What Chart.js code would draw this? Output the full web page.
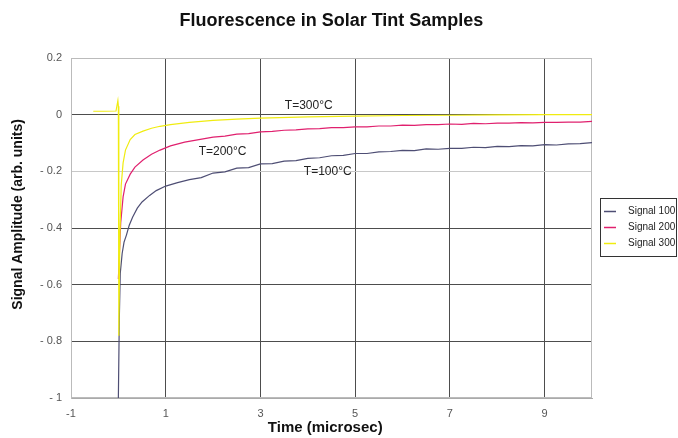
<!DOCTYPE html>
<html>
<head>
<meta charset="utf-8">
<script src="https://cdn.jsdelivr.net/npm/chart.js@4/dist/chart.umd.min.js"></script>
<style>
  body { margin: 0; background: #fff; }
  #wrap { width: 678px; height: 438px; }
</style>
</head>
<body>
<div id="wrap"><canvas id="mycanvas" width="678" height="438"></canvas></div>
<script>
// values (time in microsec, amplitude in arb. units)
var seriesNames = ['Signal 100', 'Signal 200', 'Signal 300'];
var curveLabels = ['T=100°C', 'T=200°C', 'T=300°C'];
var xTickVals = [-1, 1, 3, 5, 7, 9];
var yTickVals = [-1, -0.8, -0.6, -0.4, -0.2, 0, 0.2];

var t100 = [0, 0.02, 0.04, 0.08, 0.12, 0.17, 0.23, 0.3, 0.4, 0.5, 0.66, 0.8,
  1.0, 1.25, 1.5, 1.75, 2.0, 2.25, 2.5, 2.75, 3.0, 3.25, 3.5, 3.75, 4.0, 4.25, 4.5, 4.75,
  5.0, 5.25, 5.5, 5.75, 6.0, 6.25, 6.5, 6.75, 7.0, 7.25, 7.5, 7.75, 8.0, 8.25, 8.5, 8.75,
  9.0, 9.25, 9.5, 9.75, 10.0];
var v100 = [-1.0, -0.72, -0.56, -0.49, -0.45, -0.425, -0.39, -0.362, -0.33, -0.308, -0.285, -0.268,
  -0.252, -0.24, -0.229, -0.222, -0.206, -0.202, -0.189, -0.187, -0.174, -0.173, -0.164, -0.162, -0.154, -0.152, -0.145, -0.144,
  -0.137, -0.137, -0.131, -0.13, -0.126, -0.127, -0.121, -0.122, -0.119, -0.119, -0.115, -0.116, -0.112, -0.113, -0.109, -0.11,
  -0.106, -0.107, -0.103, -0.102, -0.099];

var t200 = [0, 0.02, 0.05, 0.1, 0.15, 0.25, 0.35, 0.52, 0.7, 0.88,
  1.1, 1.4, 1.7, 2.0, 2.25, 2.5, 2.75, 3.0, 3.25, 3.5, 3.75, 4.0, 4.25, 4.5, 4.75,
  5.0, 5.25, 5.5, 5.75, 6.0, 6.25, 6.5, 6.75, 7.0, 7.25, 7.5, 7.75, 8.0, 8.25, 8.5, 8.75,
  9.0, 9.25, 9.5, 9.75, 10.0];
var v200 = [-0.58, -0.5, -0.38, -0.29, -0.245, -0.21, -0.185, -0.16, -0.14, -0.125,
  -0.11, -0.097, -0.088, -0.079, -0.076, -0.069, -0.067, -0.061, -0.059, -0.055, -0.054, -0.05, -0.049, -0.046, -0.046,
  -0.043, -0.043, -0.04, -0.04, -0.037, -0.038, -0.035, -0.035, -0.033, -0.034, -0.031, -0.032, -0.03, -0.03, -0.028, -0.029,
  -0.027, -0.027, -0.026, -0.026, -0.024];

var t300 = [-0.53, -0.3, -0.05, -0.01, 0, 0.01, 0.03, 0.06, 0.1, 0.15, 0.25, 0.35, 0.52, 0.7, 0.88,
  1.1, 1.5, 2.0, 2.5, 3.0, 4.0, 5.0, 6.0, 7.0, 8.0, 9.0, 10.0];
var v300 = [0.012, 0.012, 0.013, 0.05, 0.03, -0.78, -0.45, -0.25, -0.17, -0.125, -0.088, -0.07, -0.058, -0.048, -0.041,
  -0.035, -0.027, -0.02, -0.016, -0.012, -0.008, -0.005, -0.003, -0.002, -0.001, 0, 0];

var lineColors = ['#4e4e74', '#e0206e', '#f0ec10'];

function pts(xs, ys) {
  var out = [];
  for (var i in xs) out.push({x: xs[i], y: ys[i]});
  return out;
}

var chartdata = {
  datasets: [
    { label: seriesNames[0], data: pts(t100, v100), borderColor: lineColors[0], order: 3 },
    { label: seriesNames[1], data: pts(t200, v200), borderColor: lineColors[1], order: 2 },
    { label: seriesNames[2], data: pts(t300, v300), borderColor: lineColors[2], order: 1 }
  ]
};

var frame = {
  id: 'frame',
  beforeDatasetsDraw: function(chart) {
    var a = chart.chartArea, c = chart.ctx;
    c.save();
    c.strokeStyle = '#bbbbbb';
    c.lineWidth = 1;
    c.strokeRect(a.left + 0.5, a.top + 0.5, a.right - a.left - 1, a.bottom - a.top - 1);
    c.restore();
  }
};

var notes = {
  id: 'notes',
  afterDatasetsDraw: function(chart) {
    var xs = chart.scales.x, ys = chart.scales.y, c = chart.ctx;
    var spots = [[4.42, -0.2], [2.2, -0.13], [4.02, 0.03]];
    c.save();
    c.font = '12px "Liberation Sans", Arial, sans-serif';
    c.fillStyle = '#222';
    c.textAlign = 'center';
    c.textBaseline = 'middle';
    for (var i in curveLabels) {
      c.fillText(curveLabels[i], xs.getPixelForValue(spots[i][0]), ys.getPixelForValue(spots[i][1]));
    }
    c.restore();
  }
};

var boxLegend = {
  id: 'boxLegend',
  afterDraw: function(chart) {
    var c = chart.ctx, a = chart.chartArea;
    var left = a.right + 8, top = 198, w = 77, h = 59;
    c.save();
    c.fillStyle = '#fff';
    c.fillRect(left, top, w, h);
    c.strokeStyle = '#333';
    c.lineWidth = 1;
    c.strokeRect(left + 0.5, top + 0.5, w - 1, h - 1);
    c.font = '10px "Liberation Sans", Arial, sans-serif';
    c.textBaseline = 'middle';
    for (var i in seriesNames) {
      var y = top + 13.5 + i * 16;
      c.strokeStyle = lineColors[i];
      c.lineWidth = 1.5;
      c.beginPath();
      c.moveTo(left + 4, y);
      c.lineTo(left + 16, y);
      c.stroke();
      c.fillStyle = '#222';
      c.fillText(seriesNames[i], left + 28, y);
    }
    c.restore();
  }
};

var tickFont = { family: '"Liberation Sans", Arial, sans-serif', size: 11 };

var ctx = document.getElementById('mycanvas');
var lineGraph = new Chart(ctx, {
  type: 'line',
  data: chartdata,
  plugins: [frame, notes, boxLegend],
  options: {
    responsive: false,
    animation: false,
    layout: { padding: { left: 0, right: 86, top: 0, bottom: 0 } },
    elements: {
      line: { borderWidth: 1.2, tension: 0 },
      point: { radius: 0 }
    },
    plugins: {
      legend: { display: false },
      tooltip: { enabled: false },
      title: {
        display: true,
        fullSize: false,
        text: 'Fluorescence in Solar Tint Samples',
        color: '#111',
        font: { family: '"Liberation Sans", Arial, sans-serif', size: 18, weight: 'bold' },
        padding: { top: 10, bottom: 26.4 }
      }
    },
    scales: {
      x: {
        type: 'linear',
        min: -1,
        max: 10,
        afterBuildTicks: function(scale) {
          scale.ticks = xTickVals.map(function(v) { return {value: v}; });
        },
        afterFit: function(scale) { scale.height = 40; },
        grid: {
          drawTicks: false,
          color: function(c) { return c.tick && c.tick.value === -1 ? '#bbbbbb' : '#4d4d4d'; }
        },
        border: { color: '#aaaaaa' },
        ticks: { font: tickFont, color: '#555', padding: 9, maxRotation: 0 },
        title: {
          display: true,
          text: 'Time (microsec)   ',
          color: '#111',
          font: { family: '"Liberation Sans", Arial, sans-serif', size: 15, weight: 'bold' },
          padding: { top: 0, bottom: 1 }
        }
      },
      y: {
        type: 'linear',
        min: -1,
        max: 0.2,
        afterBuildTicks: function(scale) {
          scale.ticks = yTickVals.map(function(v) { return {value: v}; });
        },
        afterFit: function(scale) { scale.width = 71; },
        grid: {
          drawTicks: false,
          color: function(c) {
            var v = c.tick ? c.tick.value : 0;
            if (v === 0.2 || v === -1) return '#bbbbbb';
            if (v === -0.2) return '#c8c8c8';
            return '#4d4d4d';
          }
        },
        border: { color: '#bbbbbb' },
        ticks: {
          font: tickFont,
          color: '#555',
          padding: 9,
          callback: function(v) { return v < 0 ? '- ' + Math.abs(v) : '' + v; }
        },
        title: {
          display: true,
          text: '       Signal Amplitude (arb. units)',
          color: '#111',
          font: { family: '"Liberation Sans", Arial, sans-serif', size: 14, weight: 'bold' },
          padding: { top: 10, bottom: 0 }
        }
      }
    }
  }
});
</script>
</body>
</html>
